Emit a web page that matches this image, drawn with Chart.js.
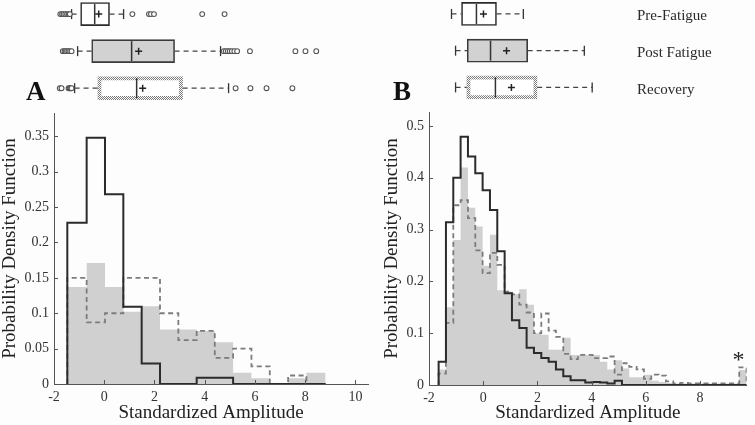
<!DOCTYPE html>
<html>
<head>
<meta charset="utf-8">
<script src="https://cdn.jsdelivr.net/npm/chart.js@4.4.1/dist/chart.umd.min.js"></script>
<style>
  html, body { margin: 0; padding: 0; background: #fdfdfd; }
  #wrap { position: relative; width: 755px; height: 425px; overflow: hidden; }
  canvas { position: absolute; top: 0; }
  #cA { left: 0; }
  #cB { left: 378px; }
</style>
</head>
<body>
<div id="wrap">
  <canvas id="cA" width="378" height="425"></canvas>
  <canvas id="cB" width="377" height="425"></canvas>
</div>
<script>
const groups = ["Pre-Fatigue", "Post Fatigue", "Recovery"];

/////////// panel A
const edgesA = [-1.47, -0.70, 0.03, 0.76, 1.49, 2.22, 2.95, 3.68, 4.40, 5.13, 5.86, 6.59, 7.32, 8.05, 8.81];
const preA = [0.228, 0.348, 0.268, 0.109, 0.029, 0, 0, 0.009, 0.009, 0, 0, 0, 0, 0];
const postA = [0.137, 0.171, 0.137, 0.102, 0.110, 0.077, 0.077, 0.075, 0.059, 0.016, 0.008, 0, 0.008, 0.016];
const recA = [0.150, 0.087, 0.100, 0.150, 0.150, 0.100, 0.062, 0.075, 0.037, 0.050, 0.025, 0, 0.012, 0];
const xTicksA = [-2, 0, 2, 4, 6, 8, 10];
const yTicksA = [0, 0.05, 0.1, 0.15, 0.2, 0.25, 0.3, 0.35];

const q1A = [-0.94, -0.50, -0.26];
const q3A = [0.21, 2.80, 3.12];
const medA = [-0.38, 1.09, 1.29];
const meanA = [-0.22, 1.37, 1.53];
const loA = [-1.30, -1.06, -1.18];
const hiA = [0.77, 4.63, 4.95];
const outA = [
  [-1.75, -1.68, -1.62, -1.55, -1.48, -1.42, -1.37, 1.12, 1.78, 1.86, 1.98, 3.90, 4.79],
  [-1.65, -1.58, -1.54, -1.48, -1.42, -1.36, -1.30, 4.76, 4.84, 4.92, 5.00, 5.08, 5.18, 5.29, 5.80, 7.61, 8.01, 8.44],
  [-1.77, -1.70, -1.42, -1.38, -1.34, -1.30, 5.23, 5.82, 6.46, 7.49],
];

/////////// panel B
const edgesB = [-1.645, -1.375, -1.104, -0.834, -0.563, -0.293, -0.022, 0.249, 0.519, 0.790, 1.060,
  1.331, 1.601, 1.872, 2.142, 2.413, 2.683, 2.954, 3.224, 3.495, 3.765, 4.036, 4.306, 4.577, 4.847,
  5.118, 5.388, 5.659, 5.929, 6.200, 6.470, 6.741, 7.011, 7.282, 7.552, 7.823, 8.093, 8.364, 8.634,
  8.905, 9.175, 9.446, 9.716];
const preB = [0.045, 0.314, 0.400, 0.479, 0.441, 0.409, 0.376, 0.338, 0.258, 0.177, 0.125, 0.110,
  0.072, 0.062, 0.052, 0.045, 0.030, 0.017, 0.009, 0.009, 0.005, 0.006, 0.005, 0.003, 0.008,
  0, 0, 0, 0, 0, 0, 0, 0, 0, 0, 0, 0, 0, 0, 0, 0, 0];
const postB = [0.030, 0.150, 0.280, 0.420, 0.342, 0.306, 0.230, 0.290, 0.183, 0.180, 0.175, 0.185,
  0.155, 0.100, 0.097, 0.068, 0.068, 0.091, 0.058, 0.058, 0.058, 0.058, 0.045, 0.030, 0.048,
  0.032, 0.015, 0.015, 0.020, 0.008, 0.006, 0.004, 0.003, 0.003, 0.003, 0.003, 0.003, 0.003,
  0.003, 0.003, 0.003, 0.029];
const recB = [0.022, 0.120, 0.347, 0.357, 0.322, 0.260, 0.216, 0.255, 0.232, 0.180, 0.175, 0.155,
  0.140, 0.100, 0.138, 0.105, 0.093, 0.060, 0.050, 0.058, 0.058, 0.052, 0.052, 0.055, 0.020,
  0.042, 0.035, 0.030, 0.012, 0.020, 0.018, 0.007, 0.003, 0.004, 0.003, 0.003, 0.003, 0.003,
  0.003, 0.003, 0.003, 0.034];
const xTicksB = [-2, 0, 2, 4, 6, 8];
const yTicksB = [0, 0.1, 0.2, 0.3, 0.4, 0.5];

const q1B = [-0.80, -0.59, -0.61];
const q3B = [0.49, 1.64, 1.99];
const medB = [-0.25, 0.27, 0.45];
const meanB = [0.01, 0.86, 1.04];
const loB = [-1.17, -1.02, -1.02];
const hiB = [1.48, 3.73, 4.02];
const outB = [[], [], []];

// the starred bin in B
const starB = { x: 9.42, y: 0.058 };

Chart.defaults.font.family = '"Liberation Serif", "Times New Roman", serif';
Chart.defaults.color = "#333";

// line controller whose big point markers do not push the chart area inwards
class MarkController extends Chart.LineController {
  getMaxOverflow() {
    return 0;
  }
}
MarkController.id = "marks";
MarkController.defaults = Chart.LineController.defaults;
Chart.register(MarkController);

function stepPoints(edges, vals) {
  const pts = [{ x: edges[0], y: 0 }];
  vals.forEach((v, i) => pts.push({ x: edges[i], y: v }));
  pts.push({ x: edges[edges.length - 1], y: 0 });
  return pts;
}

function makeHatch(ctx) {
  const c = document.createElement("canvas");
  c.width = 2;
  c.height = 2;
  const g = c.getContext("2d");
  g.fillStyle = "#7a7a7a";
  g.fillRect(0, 0, 1, 1);
  g.fillRect(1, 1, 1, 1);
  return ctx.createPattern(c, "repeat");
}

function fmt(v) {
  return String(+Number(v).toFixed(3));
}

function noPad(s) {
  s.paddingTop = 0;
  s.paddingBottom = 0;
}

function makePanel(id, p) {
  const canvas = document.getElementById(id);
  const ctx = canvas.getContext("2d");
  const hatch = makeHatch(ctx);
  const rows = groups.map((g, i) => i);

  const whiskers = rows.flatMap((i) => [
    { x: p.lo[i], y: i }, { x: p.q1[i], y: i }, { x: null, y: null },
    { x: p.q3[i], y: i }, { x: p.hi[i], y: i }, { x: null, y: null },
  ]);

  const datasets = [
    {
      data: stepPoints(p.edges, p.post), yAxisID: "y", stepped: "before",
      fill: "origin", backgroundColor: "#d0d0d0", borderColor: "rgba(0,0,0,0)",
      borderWidth: 0, pointRadius: 0, order: 10,
    },
    {
      data: stepPoints(p.edges, p.rec), yAxisID: "y", stepped: "before", fill: false,
      borderColor: "#7c7c7c", borderWidth: 1.8, borderDash: [5, 3.5], pointRadius: 0, order: 6,
    },
    {
      data: stepPoints(p.edges, p.pre), yAxisID: "y", stepped: "before", fill: false,
      borderColor: "#2b2b2b", borderWidth: 2, pointRadius: 0, order: 5,
    },
    // box plots
    {
      type: "bar", indexAxis: "y", yAxisID: "yb", xAxisID: "x",
      data: rows.map((i) => ({ x: [p.q1[i], p.q3[i]], y: i })),
      backgroundColor: ["#ffffff", "#d2d2d2", "#ffffff"],
      borderColor: ["#2b2b2b", "#3a3a3a", hatch],
      borderWidth: [1.6, 1.6, 4], borderSkipped: false, barThickness: 23, order: 4,
    },
    {
      type: "marks", data: whiskers, yAxisID: "yb", borderColor: "#444", borderWidth: 1.3,
      borderDash: [5, 4], pointRadius: 0, fill: false, clip: false, order: 3,
    },
    {
      type: "marks", data: rows.flatMap((i) => [{ x: p.lo[i], y: i }, { x: p.hi[i], y: i }]),
      yAxisID: "yb", showLine: false, pointStyle: "line", pointRotation: 90, pointRadius: 5,
      pointBorderColor: "#333", pointBorderWidth: 1.3, clip: false, order: 2,
    },
    {
      type: "marks", data: rows.map((i) => ({ x: p.med[i], y: i })), yAxisID: "yb",
      showLine: false, pointStyle: "line", pointRotation: 90, pointRadius: 10,
      pointBorderColor: "#333", pointBorderWidth: 1.5, clip: false, order: 2,
    },
    {
      type: "marks", data: rows.map((i) => ({ x: p.mean[i], y: i })), yAxisID: "yb",
      showLine: false, pointStyle: "cross", pointRadius: 3.5,
      pointBorderColor: "#222", pointBorderWidth: 1.5, clip: false, order: 1,
    },
    {
      type: "marks", data: rows.flatMap((i) => p.out[i].map((v) => ({ x: v, y: i }))),
      yAxisID: "yb", showLine: false, pointStyle: "circle", pointRadius: 2.4,
      pointBorderColor: "#555", pointBackgroundColor: "#ffffff", pointBorderWidth: 1.1,
      clip: false, order: 1,
    },
  ];

  const annotate = {
    id: "annotate",
    afterDraw(chart) {
      const c = chart.ctx;
      const x = chart.scales.x;
      const y = chart.scales.y;
      const yb = chart.scales.yb;
      c.save();
      // inward ticks
      c.strokeStyle = "#555";
      c.lineWidth = 1;
      c.beginPath();
      x.ticks.forEach((t) => {
        const px = Math.round(x.getPixelForValue(t.value)) + 0.5;
        c.moveTo(px, x.top);
        c.lineTo(px, x.top - 4);
      });
      y.ticks.forEach((t) => {
        const py = Math.round(y.getPixelForValue(t.value)) + 0.5;
        c.moveTo(y.right, py);
        c.lineTo(y.right + 4, py);
      });
      c.stroke();

      c.fillStyle = "#111";
      c.textBaseline = "alphabetic";
      c.font = 'bold 27px "Liberation Serif"';
      c.fillText(p.letter, p.letterX, 100);

      if (p.showGroups) {
        c.fillStyle = "#2a2a2a";
        c.font = '15px "Liberation Serif"';
        c.textBaseline = "middle";
        groups.forEach((g, i) => c.fillText(g, p.groupX, yb.getPixelForValue(i) + 2.5));
      }
      if (p.star) {
        c.fillStyle = "#222";
        c.font = '24px "Liberation Serif"';
        c.textAlign = "center";
        c.textBaseline = "alphabetic";
        c.fillText("*", x.getPixelForValue(p.star.x), y.getPixelForValue(p.star.y) + 12);
      }
      c.restore();
    },
  };

  return new Chart(canvas, {
    type: "line",
    data: { datasets },
    plugins: [annotate],
    options: {
      responsive: false,
      animation: false,
      devicePixelRatio: 1,
      layout: { padding: { left: 0, right: p.padRight, top: 0, bottom: 0 } },
      plugins: { legend: { display: false }, tooltip: { enabled: false } },
      scales: {
        x: {
          type: "linear", min: -2, max: p.xMax, offset: false,
          afterBuildTicks: (s) => { s.ticks = p.xTicks.map((v) => ({ value: v })); },
          ticks: { font: { size: 14 }, color: "#333", padding: 5, maxRotation: 0, callback: fmt },
          grid: { drawOnChartArea: false, drawTicks: false },
          border: { color: "#555", width: 1 },
          title: {
            display: true, text: "Standardized Amplitude", color: "#222",
            font: { size: 19, lineHeight: 1 }, padding: { top: 0, bottom: 2.5 },
          },
          afterFit: (s) => { s.height = p.xH; },
        },
        y: {
          type: "linear", position: "left", stack: "v", stackWeight: p.histH,
          min: 0, max: p.yMax, offset: false,
          afterBuildTicks: (s) => { s.ticks = p.yTicks.map((v) => ({ value: v })); },
          ticks: { font: { size: 14 }, color: "#333", padding: 5, callback: fmt },
          grid: { drawOnChartArea: false, drawTicks: false },
          border: { color: "#555", width: 1 },
          title: {
            display: true, text: "Probability Density Function", color: "#222",
            font: { size: 19, lineHeight: 1 }, padding: { top: p.titlePad, bottom: 0 },
          },
          afterFit: (s) => { s.width = p.yW; noPad(s); },
        },
        yb: {
          type: "linear", axis: "y", position: "left", stack: "v", stackWeight: p.boxH,
          min: -0.38, max: 2.67, reverse: true, offset: false,
          ticks: { display: false },
          grid: { display: false, drawTicks: false },
          border: { display: false },
          afterFit: (s) => { s.width = p.yW; noPad(s); },
        },
      },
    },
  });
}

makePanel("cA", {
  edges: edgesA, pre: preA, post: postA, rec: recA,
  q1: q1A, q3: q3A, med: medA, mean: meanA, lo: loA, hi: hiA, out: outA,
  xTicks: xTicksA, yTicks: yTicksA, xMax: 10.5, yMax: 0.383,
  yW: 54, xH: 41, histH: 271, boxH: 113, padRight: 10, titlePad: 1,
  letter: "A", letterX: 26, showGroups: false, star: null,
});

makePanel("cB", {
  edges: edgesB, pre: preB, post: postB, rec: recB,
  q1: q1B, q3: q3B, med: medB, mean: meanB, lo: loB, hi: hiB, out: outB,
  xTicks: xTicksB, yTicks: yTicksB, xMax: 9.72, yMax: 0.527,
  yW: 51, xH: 40, histH: 273, boxH: 112, padRight: 8.3, titlePad: 5,
  letter: "B", letterX: 15, showGroups: true, groupX: 259, star: starB,
});
</script>
</body>
</html>
